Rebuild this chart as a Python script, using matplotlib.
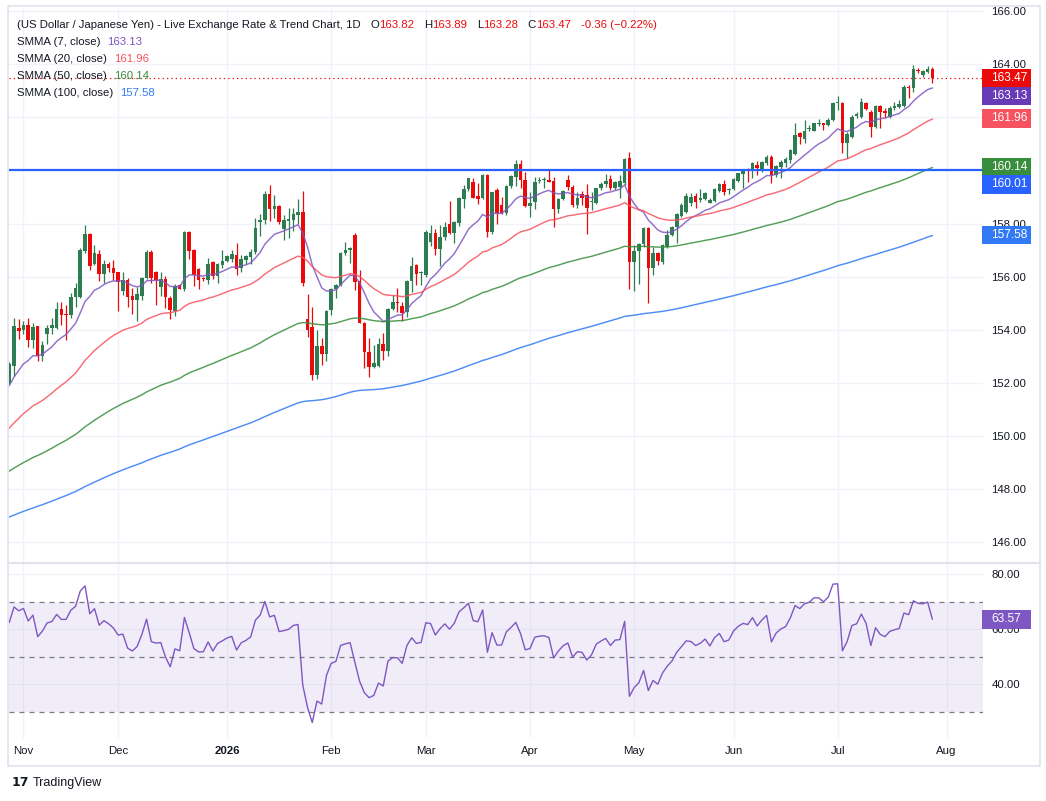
import numpy as np
import pandas as pd
import matplotlib
matplotlib.use('Agg')
import matplotlib.pyplot as plt
import matplotlib.transforms as mtrans
from matplotlib.patches import Rectangle

plt.rcParams['font.family'] = ['Liberation Sans', 'DejaVu Sans']

# ---- data (daily USD/JPY candles) ----
start_date = '2025-10-29'
opens = [152.0, 152.65, 154.08, 154.0, 154.19, 153.6, 154.13, 153.0, 153.86, 154.08,
         154.08, 154.8, 154.57, 154.55, 155.22, 155.24, 156.95, 157.61, 156.47, 156.85,
         156.09, 156.47, 156.34, 156.16, 155.46, 155.87, 155.27, 155.11, 155.28, 155.94,
         156.92, 156.19, 155.62, 155.9, 155.2, 154.72, 155.67, 155.52, 157.69, 156.99,
         156.29, 155.93, 155.86, 156.55, 156.02, 156.43, 156.58, 156.68, 156.83, 156.31,
         156.62, 156.75, 156.94, 158.07, 158.15, 159.1, 158.56, 158.66, 157.78, 158.09,
         158.15, 158.32, 158.43, 154.42, 154.1, 152.31, 153.38, 153.07, 154.76, 155.54,
         155.69, 156.88, 157.0, 157.57, 155.84, 154.27, 153.15, 152.61, 152.65, 153.45,
         153.2, 154.78, 155.06, 154.91, 154.68, 155.84, 156.44, 156.13, 156.06, 157.29,
         157.63, 157.04, 157.51, 157.97, 157.63, 158.01, 158.93, 159.3, 159.55, 159.05,
         158.98, 159.83, 157.67, 159.27, 158.7, 158.39, 159.43, 159.77, 160.24, 159.64,
         158.67, 158.8, 159.6, 159.64, 159.64, 159.6, 158.54, 158.93, 159.64, 159.39,
         158.7, 159.1, 159.08, 158.8, 158.76, 159.33, 159.48, 159.68, 159.33, 159.39,
         159.52, 160.46, 156.54, 156.97, 157.22, 157.85, 156.34, 156.88, 156.57, 157.13,
         157.57, 157.86, 158.29, 158.45, 158.76, 159.04, 158.89, 158.91, 158.79, 158.86,
         159.24, 159.49, 159.26, 159.29, 159.62, 159.87, 160.02, 160.02, 160.21, 160.02,
         160.29, 160.52, 159.83, 160.12, 160.29, 160.39, 160.62, 161.4, 161.17, 161.55,
         161.5, 161.75, 161.78, 161.71, 161.9, 162.53, 162.53, 161.02, 161.27, 162.07,
         162.03, 162.55, 162.19, 161.65, 162.44, 162.24, 162.03, 162.34, 162.4, 162.44,
         163.16, 163.12, 163.8, 163.6, 163.7, 163.82]
highs = [152.8, 154.45, 154.42, 154.35, 154.46, 154.27, 154.16, 153.59, 154.19, 154.46,
         155.03, 155.05, 154.92, 155.37, 155.75, 157.08, 157.96, 157.65, 157.2, 157.01,
         156.63, 156.57, 156.63, 156.19, 156.19, 155.96, 155.56, 155.62, 156.0, 156.99,
         156.99, 156.2, 156.16, 156.04, 155.26, 155.73, 155.73, 157.71, 157.74, 157.06,
         156.31, 155.98, 156.71, 156.58, 156.52, 156.99, 156.8, 156.99, 157.27, 156.83,
         156.83, 157.06, 158.22, 158.37, 159.22, 159.44, 159.07, 158.69, 158.34, 158.59,
         158.59, 158.91, 159.22, 155.33, 154.85, 154.01, 153.69, 154.76, 155.58, 155.72,
         156.94, 157.32, 157.13, 157.63, 156.25, 154.31, 153.7, 153.43, 153.7, 153.87,
         154.81, 155.31, 155.59, 155.06, 155.87, 156.75, 156.47, 156.21, 157.76, 157.95,
         157.8, 157.95, 158.07, 158.85, 158.1, 159.01, 159.45, 159.73, 159.7, 159.52,
         159.86, 159.86, 159.2, 159.33, 159.0, 159.45, 159.83, 160.4, 160.4, 159.96,
         159.2, 159.77, 159.77, 159.77, 160.02, 159.77, 158.95, 159.27, 159.83, 159.45,
         159.2, 159.23, 159.48, 159.2, 159.35, 159.55, 159.86, 159.83, 159.6, 159.83,
         160.46, 160.71, 157.19, 157.26, 157.88, 157.88, 157.13, 156.94, 157.22, 157.76,
         157.91, 158.39, 158.76, 159.14, 159.14, 159.14, 159.29, 159.2, 158.95, 159.33,
         159.54, 159.64, 159.33, 159.7, 159.92, 160.04, 160.08, 160.33, 160.37, 160.37,
         160.58, 160.58, 160.21, 160.4, 160.52, 160.8, 161.78, 161.46, 161.9, 161.71,
         161.8, 161.93, 161.8, 161.97, 162.59, 162.82, 162.59, 161.46, 162.09, 162.22,
         162.72, 162.59, 162.28, 162.47, 162.47, 162.34, 162.44, 162.59, 162.66, 163.22,
         163.22, 163.97, 163.87, 163.79, 163.95, 163.89]
lows = [151.95, 152.27, 153.66, 153.85, 153.34, 153.3, 152.83, 152.83, 153.47, 153.85,
        154.04, 154.19, 153.63, 154.46, 154.86, 155.18, 156.9, 156.25, 156.44, 155.84,
        155.75, 156.19, 155.87, 154.7, 155.3, 154.86, 154.61, 154.35, 155.11, 155.91,
        155.78, 154.95, 155.28, 154.82, 154.39, 154.51, 155.52, 155.48, 156.65, 155.64,
        155.55, 155.85, 155.73, 155.93, 155.77, 156.33, 156.55, 156.56, 156.08, 156.18,
        156.48, 156.48, 156.86, 157.53, 157.99, 158.09, 158.22, 157.99, 157.4, 157.46,
        157.74, 157.99, 155.64, 153.72, 152.12, 152.16, 152.66, 152.81, 154.57, 155.18,
        155.66, 156.82, 156.5, 155.5, 154.24, 152.55, 152.23, 152.58, 152.61, 152.86,
        153.03, 154.75, 154.68, 154.33, 154.49, 155.44, 155.69, 155.69, 156.0, 157.17,
        156.82, 156.41, 157.38, 157.6, 157.26, 157.92, 158.57, 159.23, 158.95, 158.73,
        158.93, 157.51, 157.6, 157.97, 158.35, 158.32, 159.33, 159.43, 159.33, 158.64,
        158.26, 158.55, 159.52, 159.33, 159.55, 157.88, 158.39, 158.89, 159.27, 158.64,
        158.57, 158.7, 157.6, 158.51, 158.73, 159.27, 159.39, 159.27, 159.27, 158.95,
        159.45, 155.54, 155.46, 155.71, 157.13, 155.02, 156.06, 156.44, 156.47, 157.07,
        157.53, 157.28, 158.26, 158.39, 158.66, 158.57, 158.83, 158.88, 158.76, 158.83,
        159.2, 159.08, 159.11, 159.27, 159.58, 159.33, 159.58, 159.7, 159.83, 159.96,
        160.21, 159.54, 159.77, 159.7, 160.14, 160.27, 160.58, 161.0, 161.05, 161.5,
        161.5, 161.68, 161.53, 161.68, 161.86, 162.28, 160.65, 160.48, 161.24, 161.99,
        161.99, 162.28, 161.27, 161.61, 161.61, 161.96, 161.96, 162.28, 162.37, 162.4,
        162.72, 162.94, 163.66, 163.53, 163.66, 163.28]
closes = [152.7, 154.16, 153.97, 154.19, 153.6, 154.1, 153.0, 153.43, 154.08, 154.19,
          154.77, 154.55, 154.55, 155.24, 155.56, 157.01, 157.61, 156.42, 156.89, 156.1,
          156.47, 156.32, 156.13, 155.81, 155.87, 155.24, 155.11, 155.33, 155.96, 156.92,
          155.94, 155.87, 155.9, 155.24, 154.76, 155.64, 155.55, 157.69, 156.96, 156.08,
          155.89, 155.9, 156.48, 156.02, 156.46, 156.61, 156.77, 156.86, 156.29, 156.65,
          156.77, 156.94, 157.84, 158.15, 159.1, 158.56, 158.66, 158.07, 158.12, 158.19,
          158.38, 158.43, 155.77, 154.01, 152.31, 153.38, 153.07, 154.72, 155.55, 155.69,
          156.88, 157.0, 157.09, 155.81, 154.27, 153.15, 152.61, 152.74, 153.45, 153.2,
          154.78, 155.03, 155.02, 154.65, 155.84, 156.42, 156.09, 156.16, 157.67, 157.63,
          157.04, 157.51, 157.88, 157.63, 158.05, 158.95, 159.3, 159.7, 158.98, 158.93,
          159.83, 157.67, 159.18, 158.39, 158.39, 159.43, 159.81, 160.24, 159.64, 158.67,
          158.76, 159.55, 159.64, 159.66, 159.58, 158.54, 158.93, 159.23, 159.39, 158.7,
          158.98, 158.95, 158.6, 158.83, 159.33, 159.48, 159.6, 159.35, 159.58, 159.6,
          160.43, 156.54, 156.97, 157.22, 157.85, 156.34, 156.88, 156.59, 157.19, 157.57,
          157.86, 158.36, 158.7, 159.04, 159.01, 158.83, 158.95, 159.16, 158.89, 159.29,
          159.49, 159.2, 159.27, 159.67, 159.89, 160.02, 159.99, 160.29, 160.08, 160.33,
          160.52, 159.83, 160.17, 160.33, 160.42, 160.77, 161.34, 161.27, 161.5, 161.57,
          161.78, 161.78, 161.71, 161.9, 162.53, 162.55, 161.02, 161.36, 162.03, 162.11,
          162.57, 162.32, 161.65, 162.44, 162.22, 162.15, 162.37, 162.44, 162.49, 163.16,
          163.12, 163.82, 163.76, 163.75, 163.83, 163.47]

smma_lengths = [7, 20, 50, 100]
smma_first = [151.9, 150.3, 148.68, 146.95]      # indicator values at the first visible bar
smma_last = [163.13, 161.96, 160.14, 157.58]     # values printed in the legend
smma_colors = ['#7e57c2', '#f7525f', '#388e3c', '#3179f5']
smma_box_colors = ['#673ab7', '#f7525f', '#388e3c', '#3179f5']

hline_level = 160.01
rsi_length = 14
rsi_first_gain, rsi_first_loss = 0.40, 0.24
rsi_last = 63.57

price_ticks = [146, 148, 150, 152, 154, 156, 158, 160, 162, 164, 166]
rsi_ticks = [40, 60, 80]
rsi_bands = [30, 50, 70]
month_labels = ['Nov', 'Dec', '2026', 'Feb', 'Mar', 'Apr', 'May', 'Jun', 'Jul', 'Aug']

GREEN = '#2e7d52'
RED = '#eb0a0a'
TXT = '#131722'
GRID = '#f0f3fa'
W, H = 1046, 801


def smma(values, length, first):
    out = [first]
    for v in values[1:]:
        out.append((out[-1] * (length - 1) + v) / length)
    return np.array(out)


def rsi(values, length, g, l):
    out = [100 - 100 / (1 + g / l)]
    for prev, cur in zip(values[:-1], values[1:]):
        ch = cur - prev
        g = (g * (length - 1) + max(ch, 0)) / length
        l = (l * (length - 1) + max(-ch, 0)) / length
        out.append(100 - 100 / (1 + g / l))
    return np.array(out)


o = np.array(opens); h = np.array(highs); lo = np.array(lows); c = np.array(closes)
x = np.arange(len(c))
dates = pd.bdate_range(start_date, periods=len(c) + 15)
month_pos = [i for i in range(1, len(dates)) if dates[i].month != dates[i - 1].month]

fig = plt.figure(figsize=(W / 100, H / 100), dpi=100)
axp = fig.add_axes([9 / W, 1 - 562 / H, 974 / W, 554 / H])
axr = fig.add_axes([9 / W, 1 - 738 / H, 974 / W, 174 / H])

xlim = (-0.06, 205.7)
ppx = 26.55   # pixels per yen
axp.set_xlim(*xlim)
axp.set_ylim(164 - (562 - 64.3) / ppx, 164 + (64.3 - 8) / ppx)
rpx = 2.758
axr.set_xlim(*xlim)
axr.set_ylim(70 - (738 - 601.7) / rpx, 70 + (601.7 - 564) / rpx)

for ax in (axp, axr):
    for s in ax.spines.values():
        s.set_visible(False)
    for m in month_pos:
        ax.axvline(m, color=GRID, lw=1, zorder=0)
    ax.tick_params(axis='both', length=0, labelsize=8.2, labelcolor=TXT)
    ax.yaxis.tick_right()

for t in price_ticks:
    axp.axhline(t, color=GRID, lw=1, zorder=0)
for t in rsi_ticks:
    axr.axhline(t, color=GRID, lw=1, zorder=0)

# candles
cols = np.where(c >= o, GREEN, RED)
axp.vlines(x, lo, h, colors=cols, lw=0.9, zorder=2)
axp.bar(x, np.maximum(np.abs(c - o), 0.04), bottom=np.minimum(o, c), width=0.76,
        color=cols, linewidth=0, zorder=2)

# smoothed moving averages
for n, f, col in zip(smma_lengths, smma_first, smma_colors):
    axp.plot(x, smma(c, n, f), color=col, lw=1.05, alpha=0.85, zorder=3)

axp.axhline(hline_level, color='#2962ff', lw=1.6, zorder=4)
axp.axhline(c[-1], color=RED, lw=0.9, ls=(0, (1, 2.5)), zorder=4)

# price scale labels
boxes = [(c[-1], RED)] + list(zip(smma_last, smma_box_colors)) + [(hline_level, '#2962ff')]
boxes.sort(key=lambda b: -b[0])
gap = 17.5 / ppx
placed = []
for v, col in boxes:
    y = v if not placed else min(v, placed[-1][0] - gap)
    placed.append((y, v, col))
tr = mtrans.blended_transform_factory(axp.transAxes, axp.transData)
bh = 18.5 / ppx
for y, v, col in placed:
    axp.add_patch(Rectangle((973 / 974, y - bh / 2), 49 / 974, bh, transform=tr,
                            facecolor=col, edgecolor='none', clip_on=False, zorder=6))
    axp.text(982 / 974, y, f'{v:.2f}', transform=tr, color='white', fontsize=8.6,
             va='center', ha='left', zorder=7, clip_on=False)

shown = [t for t in price_ticks if min(abs(t - p[0]) for p in placed) > 0.4]
axp.set_yticks(shown)
axp.set_yticklabels([f'{t:.2f}' for t in shown])
axp.tick_params(axis='y', pad=6)
axp.set_xticks([])

# RSI pane
r = rsi(c, rsi_length, rsi_first_gain, rsi_first_loss)
axr.axhspan(rsi_bands[0], rsi_bands[2], color='#7e57c2', alpha=0.1, lw=0, zorder=0)
for b in rsi_bands:
    axr.axhline(b, color='#787b86', lw=0.9, ls=(0, (4, 4)), zorder=1)
axr.plot(x, r, color='#7e57c2', lw=1.0, zorder=3)
trr = mtrans.blended_transform_factory(axr.transAxes, axr.transData)
rbh = 18.5 / rpx
axr.add_patch(Rectangle((973 / 974, rsi_last - rbh / 2), 49 / 974, rbh, transform=trr,
                        facecolor='#7e57c2', edgecolor='none', clip_on=False, zorder=6))
axr.text(982 / 974, rsi_last, f'{rsi_last:.2f}', transform=trr, color='white',
         fontsize=8.6, va='center', ha='left', zorder=7, clip_on=False)
axr.set_yticks(rsi_ticks)
axr.set_yticklabels([f'{t:.2f}' for t in rsi_ticks])
axr.tick_params(axis='y', pad=6)
axr.set_xticks(month_pos[:len(month_labels)])
axr.set_xticklabels(month_labels)
axr.tick_params(axis='x', pad=6)
for lab in axr.get_xticklabels():
    if lab.get_text().isdigit():
        lab.set_fontweight('bold')


# legend / header text
def chain(parts, x0, y0):
    t = axp.annotate(parts[0][0], xy=(x0 / W, 1 - y0 / H), xycoords='figure fraction',
                     color=parts[0][1], fontsize=8.2, va='center', ha='left',
                     annotation_clip=False, zorder=8)
    for s, col, g in parts[1:]:
        t = axp.annotate(s, xy=(1, 0), xycoords=t, xytext=(g, 0),
                         textcoords='offset points', color=col, fontsize=8.2,
                         va='bottom', ha='left', annotation_clip=False, zorder=8)


chg = c[-1] - c[-2]
chain([('(US Dollar / Japanese Yen) - Live Exchange Rate & Trend Chart, 1D', TXT),
       ('O', TXT, 7), (f'{o[-1]:.2f}', RED, 0), ('H', TXT, 7), (f'{h[-1]:.2f}', RED, 0),
       ('L', TXT, 7), (f'{lo[-1]:.2f}', RED, 0), ('C', TXT, 7), (f'{c[-1]:.2f}', RED, 0),
       (f'{chg:.2f} (\u2212{abs(chg) / c[-2] * 100:.2f}%)', RED, 7)], 17, 25)
for k, (n, v, col) in enumerate(zip(smma_lengths, smma_last, smma_colors)):
    chain([(f'SMMA ({n}, close)', TXT), (f'{v:.2f}', col, 5)], 17, 42 + 17 * k)
chain([('RSI (14)', TXT), (f'{rsi_last:.2f}', '#7e57c2', 5)], 17, 577)

# frame, pane separator and footer
fig.add_artist(Rectangle((8 / W, 1 - 766 / H), 1032 / W, 760 / H, transform=fig.transFigure,
                         facecolor='none', edgecolor='#e0e3eb', lw=1.2))
fig.add_artist(plt.Line2D([8 / W, 1040 / W], [1 - 563 / H, 1 - 563 / H],
                          transform=fig.transFigure, color='#e0e3eb', lw=1.5))
fig.text(12 / W, 1 - 783 / H, '17', fontsize=9, fontweight='bold', color=TXT,
         va='center', ha='left', family='DejaVu Sans')
fig.text(33 / W, 1 - 783 / H, 'TradingView', fontsize=9, color=TXT, va='center', ha='left')

fig.savefig('out.png', dpi=100)
